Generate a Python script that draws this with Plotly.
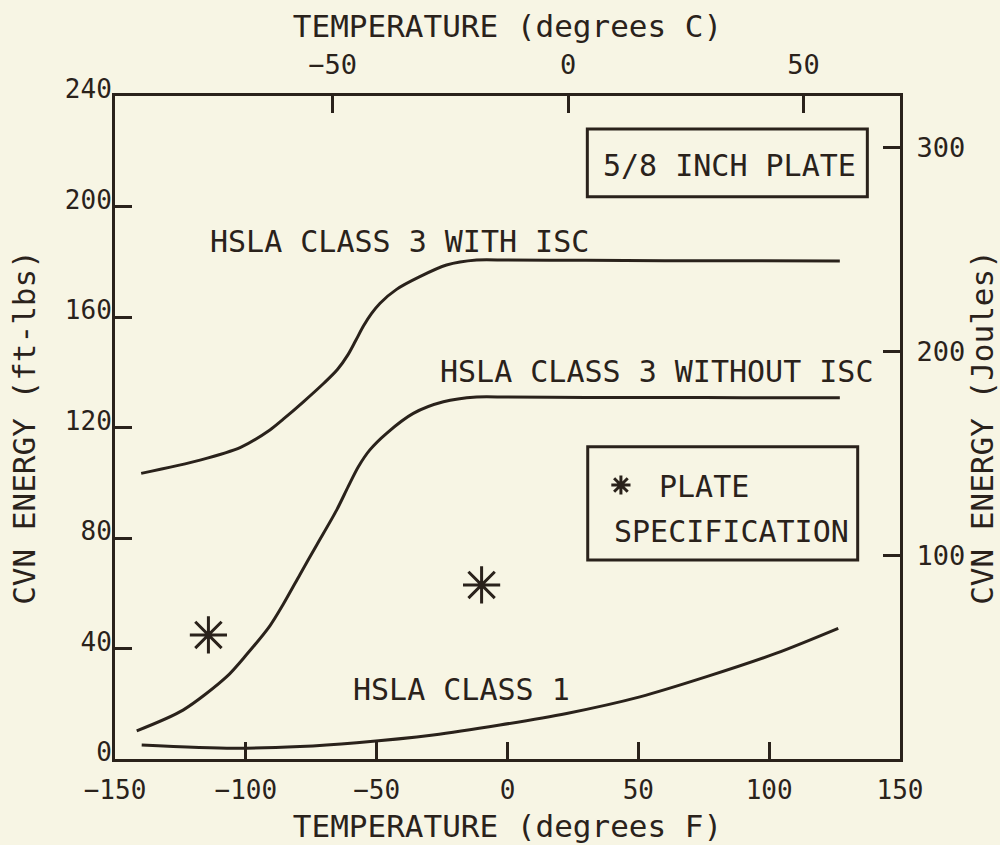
import plotly.graph_objects as go

# ---- data ----
temp_isc = [-140, -117.5, -102, -90.8, -85.7, -78, -70, -65, -61, -58, -55, -52, -48.7, -42.4, -33.5, -23.3, -11.8, 0, 30, 60, 90, 127]
cvn_isc = [103.4, 108.2, 112.8, 119.1, 123.0, 129.3, 136.2, 141.0, 146.3, 151.5, 156.8, 161.2, 165.0, 170.0, 174.6, 178.8, 180.6, 180.6, 180.5, 180.4, 180.4, 180.3]

temp_no_isc = [-141.7, -124, -107.3, -99.7, -90.8, -85.7, -79.3, -72.9, -65.3, -60.9, -57, -52.6, -46.2, -36, -24.5, -11.8, 0, 30, 60, 90, 127]
cvn_no_isc = [10.2, 17.7, 29.8, 37.8, 48.2, 56.0, 66.8, 77.5, 90.1, 98.6, 105.8, 111.9, 117.9, 125.1, 129.3, 131.0, 131.0, 130.9, 130.9, 130.8, 130.8]

temp_c1 = [-139.8, -104.8, -79.3, -57.6, -28.4, -2.9, 22.6, 50.6, 76.1, 102.8, 126.4]
cvn_c1 = [5.1, 3.9, 4.5, 5.9, 8.7, 12.3, 16.5, 22.5, 29.8, 38.3, 47.3]

spec_temp = [-114.3, -9.9]
spec_cvn = [44.9, 63.0]

x_ticks_f = [-150, -100, -50, 0, 50, 100, 150]
x_ticks_c = [-50, 0, 50]
y_ticks_ftlb = [0, 40, 80, 120, 160, 200, 240]
y_ticks_j = [100, 200, 300]

FTLB_TO_J = 1.35582
x_range_f = [-150, 150]
x_range_c = [-96.2, 70.5]
y_range_ftlb = [0, 240]
y_range_j = [0, 240 * FTLB_TO_J]

INK = "#2a221b"
BG = "#f7f5e4"
FONT = "DejaVu Sans Mono"

fig = go.Figure()

line_style = dict(color=INK, width=3, shape="spline", smoothing=0.8)
fig.add_trace(go.Scatter(x=temp_isc, y=cvn_isc, mode="lines", line=line_style,
                         showlegend=False, name="HSLA CLASS 3 WITH ISC"))
fig.add_trace(go.Scatter(x=temp_no_isc, y=cvn_no_isc, mode="lines", line=line_style,
                         showlegend=False, name="HSLA CLASS 3 WITHOUT ISC"))
fig.add_trace(go.Scatter(x=temp_c1, y=cvn_c1, mode="lines", line=line_style,
                         showlegend=False, name="HSLA CLASS 1"))
fig.add_trace(go.Scatter(x=spec_temp, y=spec_cvn, mode="markers",
                         marker=dict(symbol="asterisk-open", size=31, color=INK,
                                     line=dict(color=INK, width=3)),
                         name=" PLATE", showlegend=True))
# carrier for the secondary (degrees C / Joules) axes so they are drawn
fig.add_trace(go.Scatter(x=x_range_c, y=y_range_j, xaxis="x2", yaxis="y2", mode="markers",
                         marker=dict(opacity=0), hoverinfo="skip", showlegend=False))

axis_common = dict(
    showline=True, linecolor=INK, linewidth=3,
    ticks="inside", ticklen=17, tickwidth=3, tickcolor=INK,
    showgrid=False, zeroline=False, tickmode="array", automargin=False,
    tickfont=dict(family=FONT, size=26, color=INK),
)
title_font = dict(family=FONT, size=31, color=INK)

fig.update_layout(
    width=1000, height=845,
    margin=dict(l=115, r=100, t=96, b=86),
    paper_bgcolor=BG, plot_bgcolor=BG,
    font=dict(family=FONT, color=INK),
    xaxis=dict(axis_common, range=x_range_f, tickvals=x_ticks_f,
               title=dict(text="TEMPERATURE (degrees F)", font=title_font, standoff=12),
               ticklabelstandoff=6),
    xaxis2=dict(axis_common, range=x_range_c, tickvals=x_ticks_c, overlaying="x", side="top", anchor="y",
                title=dict(text="TEMPERATURE (degrees C)", font=title_font, standoff=3),
                tickfont=dict(family=FONT, size=27, color=INK), ticklabelstandoff=8),
    yaxis=dict(axis_common, range=y_range_ftlb, tickvals=y_ticks_ftlb,
               title=dict(text="CVN ENERGY (ft-lbs)", font=title_font, standoff=20),
               ticklabelstandoff=-5, ticklabelshift=-7),
    yaxis2=dict(axis_common, range=y_range_j, tickvals=y_ticks_j, overlaying="y", side="right", anchor="x",
                title=dict(text="CVN ENERGY (Joules)", font=title_font, standoff=4),
                tickfont=dict(family=FONT, size=27, color=INK), ticklabelstandoff=8),
    legend=dict(x=0.619, y=0.4525, xanchor="left", yanchor="top",
                bgcolor="rgba(0,0,0,0)", borderwidth=0,
                font=dict(family=FONT, size=30, color=INK), valign="top"),
    showlegend=True,
)

# boxes around the plate note and the legend
box_line = dict(color=INK, width=3)
fig.add_shape(type="rect", xref="paper", yref="paper", x0=0.6017, x1=0.9584, y0=0.8481, y1=0.9502,
              line=box_line)
fig.add_shape(type="rect", xref="paper", yref="paper", x0=0.6022, x1=0.9461, y0=0.3002, y1=0.471,
              line=box_line)

ann_font = dict(family=FONT, size=30, color=INK)
fig.add_annotation(x=-41.3, y=187.2, xref="x", yref="y", text="HSLA CLASS 3 WITH ISC",
                   showarrow=False, font=ann_font)
fig.add_annotation(x=57.0, y=140.2, xref="x", yref="y", text="HSLA CLASS 3 WITHOUT ISC",
                   showarrow=False, font=ann_font)
fig.add_annotation(x=-17.5, y=25.0, xref="x", yref="y", text="HSLA CLASS 1",
                   showarrow=False, font=ann_font)
fig.add_annotation(x=0.7822, y=0.8959, xref="paper", yref="paper", text="5/8 INCH PLATE",
                   xanchor="center", yanchor="middle", showarrow=False, font=ann_font)
fig.add_annotation(x=0.6327, y=0.3428, xref="paper", yref="paper", text="SPECIFICATION",
                   xanchor="left", yanchor="middle", showarrow=False, font=ann_font)

fig.write_html("out.html")
